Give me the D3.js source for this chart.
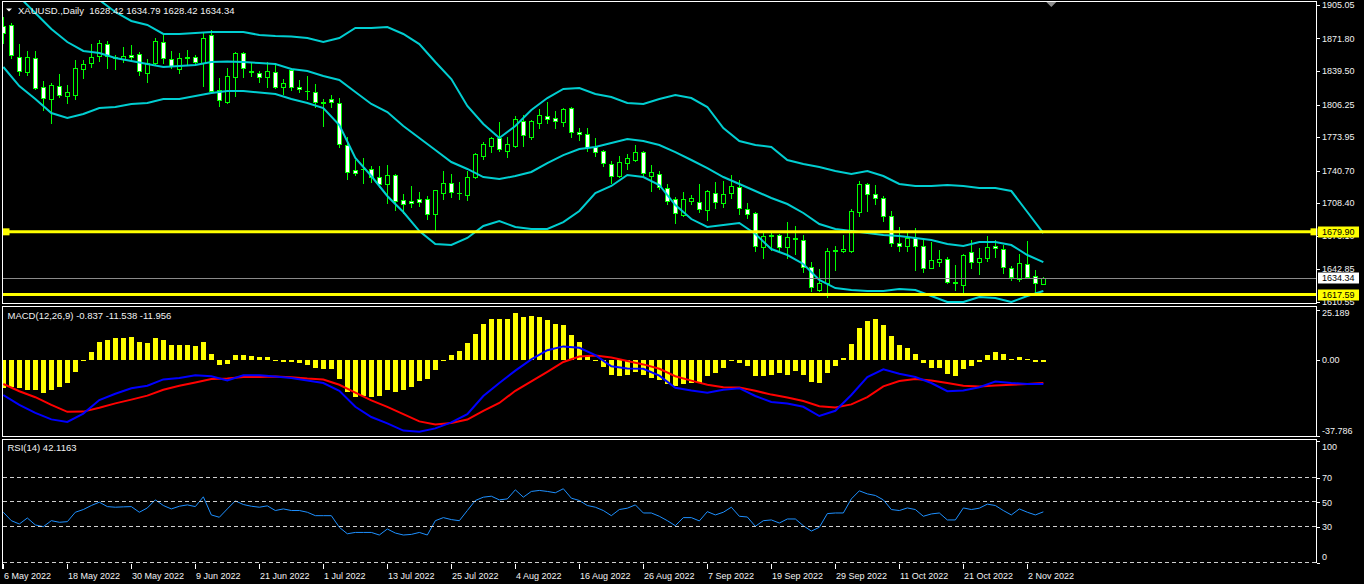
<!DOCTYPE html>
<html>
<head>
<meta charset="utf-8">
<script src="https://cdn.jsdelivr.net/npm/d3@7"></script>
<style>
  body { margin: 0; background: #000; }
  svg { display: block; }
  text { font-family: "Liberation Sans", Arial, sans-serif; font-size: 9px; fill: #f2f2f2; white-space: pre; }
  .title { font-size: 9.5px; }
</style>
</head>
<body>
<svg id="chart" width="1364" height="584"></svg>
<script>
// ---- data (daily bars, 6 May 2022 .. 4 Nov 2022) ----
const dateLabels = ["6 May 2022", "18 May 2022", "30 May 2022", "9 Jun 2022", "21 Jun 2022", "1 Jul 2022",
  "13 Jul 2022", "25 Jul 2022", "4 Aug 2022", "16 Aug 2022", "26 Aug 2022", "7 Sep 2022", "19 Sep 2022",
  "29 Sep 2022", "11 Oct 2022", "21 Oct 2022", "2 Nov 2022"];
const dateLabelBars = [0, 8, 16, 24, 32, 40, 48, 56, 64, 72, 80, 88, 96, 104, 112, 120, 128];

const opens = [1884.2, 1885.2, 1853.7, 1838.2, 1852.1, 1823.3, 1811.4, 1824.3, 1814.4, 1816.0,
  1841.2, 1847.2, 1854.4, 1866.0, 1853.1, 1851.1, 1855.4, 1856.4, 1837.2, 1847.2,
  1868.3, 1851.1, 1841.2, 1853.1, 1853.1, 1847.2, 1875.3, 1820.7, 1809.1, 1833.9,
  1857.7, 1839.2, 1837.2, 1833.3, 1838.2, 1823.3, 1840.5, 1823.3, 1819.7, 1818.4,
  1808.8, 1812.0, 1807.5, 1766.1, 1741.3, 1741.8, 1742.0, 1734.6, 1727.1, 1736.3,
  1711.5, 1710.5, 1712.5, 1712.2, 1697.3, 1718.7, 1728.1, 1718.4, 1716.7, 1734.0,
  1755.5, 1765.4, 1772.7, 1760.4, 1765.4, 1790.2, 1774.3, 1788.2, 1794.9, 1792.6,
  1789.2, 1802.5, 1779.3, 1776.7, 1763.8, 1760.1, 1747.2, 1735.6, 1748.5, 1751.2,
  1758.8, 1735.6, 1737.3, 1723.1, 1712.2, 1696.6, 1710.5, 1709.2, 1701.6, 1718.1,
  1708.8, 1718.1, 1724.1, 1702.2, 1698.3, 1665.1, 1675.7, 1676.7, 1665.1, 1673.5,
  1671.8, 1644.7, 1622.1, 1628.8, 1661.2, 1661.2, 1661.2, 1699.9, 1727.1, 1717.1,
  1713.2, 1695.9, 1668.5, 1666.1, 1673.5, 1666.1, 1644.3, 1650.2, 1652.9, 1629.8,
  1627.1, 1659.6, 1649.6, 1653.6, 1665.8, 1662.8, 1644.3, 1632.8, 1647.6, 1636.0,
  1628.42];
const highs = [1893.4, 1887.5, 1866.3, 1859.4, 1859.4, 1829.9, 1827.3, 1836.5, 1825.6, 1850.4,
  1850.4, 1866.0, 1870.3, 1869.3, 1855.4, 1863.6, 1865.3, 1858.7, 1851.4, 1872.0,
  1876.9, 1859.4, 1857.1, 1860.4, 1855.4, 1877.9, 1880.2, 1832.3, 1842.2, 1858.7,
  1858.7, 1847.2, 1839.8, 1848.8, 1847.2, 1831.6, 1842.2, 1830.6, 1834.6, 1826.6,
  1811.4, 1815.7, 1812.4, 1774.3, 1751.2, 1753.5, 1745.2, 1745.2, 1746.2, 1737.3,
  1717.4, 1725.4, 1719.1, 1715.5, 1721.4, 1740.3, 1737.3, 1729.1, 1740.6, 1757.8,
  1768.8, 1774.3, 1788.6, 1774.3, 1795.2, 1795.9, 1790.9, 1801.8, 1808.5, 1799.8,
  1803.1, 1803.5, 1783.2, 1782.6, 1772.7, 1761.1, 1750.2, 1755.2, 1756.8, 1766.1,
  1760.1, 1746.2, 1740.6, 1727.4, 1714.8, 1719.1, 1716.4, 1727.4, 1721.4, 1729.6,
  1730.3, 1736.3, 1731.3, 1708.2, 1699.9, 1678.4, 1679.0, 1677.4, 1689.9, 1686.0,
  1676.7, 1650.2, 1643.0, 1663.5, 1665.8, 1676.7, 1702.2, 1730.3, 1728.6, 1726.4,
  1715.5, 1700.6, 1684.4, 1678.4, 1683.4, 1671.8, 1670.1, 1661.9, 1655.2, 1647.0,
  1657.9, 1671.8, 1664.1, 1675.7, 1671.8, 1666.8, 1646.3, 1657.6, 1670.8, 1642.0,
  1634.79];
const lows = [1867.3, 1852.1, 1835.6, 1835.6, 1821.4, 1800.8, 1787.6, 1813.4, 1807.5, 1811.4,
  1832.9, 1843.8, 1849.8, 1842.2, 1841.2, 1848.8, 1849.8, 1835.6, 1828.9, 1846.5,
  1847.8, 1842.2, 1837.8, 1846.2, 1846.2, 1824.6, 1819.0, 1804.8, 1808.1, 1814.7,
  1833.9, 1834.6, 1828.9, 1823.9, 1822.4, 1816.7, 1820.7, 1819.0, 1811.7, 1803.5,
  1784.9, 1804.1, 1764.4, 1732.3, 1736.3, 1728.7, 1729.7, 1724.1, 1708.8, 1701.6,
  1698.9, 1704.2, 1705.8, 1692.6, 1681.7, 1712.5, 1714.8, 1712.5, 1711.5, 1733.0,
  1752.2, 1758.8, 1760.4, 1754.5, 1764.4, 1765.4, 1771.7, 1783.2, 1788.2, 1783.2,
  1784.9, 1773.7, 1771.0, 1760.4, 1755.5, 1745.5, 1728.1, 1734.6, 1742.3, 1750.2,
  1734.6, 1720.7, 1722.4, 1707.2, 1688.9, 1695.6, 1707.5, 1699.9, 1691.6, 1703.2,
  1704.8, 1713.2, 1697.3, 1693.3, 1661.2, 1654.2, 1661.9, 1659.6, 1654.2, 1657.6,
  1640.3, 1621.2, 1621.2, 1615.5, 1642.0, 1659.9, 1659.6, 1695.6, 1700.6, 1707.5,
  1690.6, 1666.1, 1661.2, 1661.2, 1642.0, 1640.3, 1644.3, 1646.3, 1628.8, 1622.1,
  1618.9, 1644.3, 1638.0, 1650.9, 1655.2, 1638.7, 1632.1, 1631.1, 1634.4, 1620.5,
  1628.42];
const closes = [1877.5, 1855.4, 1839.5, 1853.1, 1822.4, 1812.4, 1825.3, 1815.4, 1818.4, 1842.2,
  1846.5, 1853.7, 1867.0, 1854.7, 1852.1, 1854.4, 1853.1, 1839.5, 1847.2, 1869.3,
  1852.1, 1844.5, 1852.1, 1852.7, 1848.2, 1872.0, 1819.7, 1810.7, 1834.6, 1857.7,
  1842.2, 1838.5, 1833.9, 1839.8, 1823.9, 1827.3, 1823.3, 1821.4, 1819.4, 1808.5,
  1807.8, 1808.5, 1766.8, 1739.6, 1738.6, 1742.3, 1734.6, 1727.1, 1736.3, 1710.5,
  1707.2, 1708.2, 1709.8, 1697.3, 1721.1, 1728.1, 1719.7, 1718.9, 1734.6, 1757.1,
  1766.8, 1772.7, 1761.8, 1766.8, 1791.6, 1776.0, 1790.2, 1795.6, 1792.2, 1790.2,
  1801.5, 1779.3, 1776.7, 1764.4, 1759.4, 1747.9, 1735.6, 1748.9, 1752.9, 1758.8,
  1738.6, 1739.0, 1724.7, 1710.5, 1698.3, 1712.2, 1713.2, 1702.2, 1720.4, 1709.2,
  1717.4, 1725.4, 1703.2, 1697.3, 1665.8, 1675.7, 1676.7, 1665.1, 1675.1, 1672.8,
  1644.7, 1624.8, 1629.4, 1660.9, 1661.6, 1662.5, 1700.6, 1727.1, 1717.1, 1713.2,
  1695.9, 1668.5, 1666.1, 1673.5, 1666.1, 1643.7, 1651.9, 1652.9, 1629.8, 1629.1,
  1656.9, 1650.2, 1653.6, 1664.5, 1663.5, 1645.3, 1634.8, 1648.6, 1635.3, 1629.4,
  1634.34];

// Bollinger bands and MACD lines, read at every second bar
const sampleBars = d3.range(0, 131, 2);
const bbUpper = [1979.5, 1964.6, 1954.7, 1944.7, 1934.8, 1921.9, 1910.0, 1898.1, 1889.2, 1885.2,
  1876.3, 1876.3, 1877.2, 1878.2, 1878.2, 1878.2, 1875.3, 1874.3, 1873.8, 1872.3,
  1868.3, 1872.3, 1882.2, 1882.2, 1883.2, 1876.3, 1866.3, 1848.5, 1831.6, 1804.8,
  1786.9, 1773.0, 1784.9, 1800.8, 1812.7, 1821.7, 1822.7, 1816.7, 1813.7, 1807.8,
  1806.8, 1811.7, 1815.7, 1812.7, 1803.8, 1782.9, 1770.0, 1766.1, 1764.1, 1751.2,
  1747.2, 1744.2, 1740.3, 1737.3, 1740.3, 1735.3, 1727.4, 1725.4, 1725.4, 1726.4,
  1725.4, 1723.4, 1723.4, 1720.4, 1699.6, 1678.7];
const bbMiddle = [1928.1, 1913.0, 1897.1, 1881.2, 1868.3, 1859.4, 1857.4, 1852.4, 1849.5, 1846.5,
  1843.5, 1844.5, 1845.5, 1848.5, 1849.0, 1848.5, 1847.5, 1846.5, 1841.5, 1839.5,
  1834.6, 1830.6, 1818.7, 1806.8, 1798.8, 1784.9, 1773.0, 1761.1, 1749.2, 1742.3,
  1734.3, 1732.3, 1735.3, 1739.3, 1748.2, 1756.1, 1762.1, 1764.1, 1768.1, 1772.0,
  1770.0, 1766.1, 1759.1, 1751.2, 1743.2, 1734.3, 1727.4, 1720.4, 1713.5, 1707.5,
  1698.6, 1687.7, 1682.7, 1680.7, 1678.7, 1676.7, 1675.7, 1673.8, 1671.8, 1667.8,
  1665.8, 1669.8, 1669.8, 1666.8, 1656.9, 1649.9];
const bbLower = [1843.5, 1824.6, 1811.7, 1797.8, 1792.9, 1796.8, 1802.8, 1803.8, 1806.8, 1807.8,
  1811.7, 1811.7, 1814.7, 1817.7, 1819.7, 1819.7, 1818.2, 1816.7, 1811.7, 1807.8,
  1802.8, 1785.9, 1753.2, 1735.3, 1715.5, 1699.6, 1680.7, 1667.8, 1666.8, 1673.8,
  1685.7, 1690.6, 1684.7, 1682.7, 1682.7, 1689.6, 1700.6, 1718.4, 1725.4, 1736.3,
  1734.3, 1726.4, 1706.5, 1692.6, 1684.7, 1686.7, 1688.7, 1677.7, 1662.8, 1656.9,
  1648.0, 1632.1, 1624.1, 1622.1, 1621.2, 1621.2, 1623.1, 1622.1, 1616.2, 1610.2,
  1610.2, 1615.2, 1614.2, 1610.2, 1616.2, 1621.2];

const macdHist = [-14.1, -13.3, -14.1, -15.0, -15.2, -16.6, -15.0, -13.6, -11.5, -5.9,
  -0.5, 4.1, 8.8, 10.2, 10.8, 10.8, 11.4, 8.8, 8.3, 10.8,
  10.0, 7.6, 7.6, 7.6, 6.8, 8.8, 3.2, -2.5, -1.9, 2.4,
  2.4, 2.0, 1.5, 1.5, -0.5, -0.8, -1.0, -1.7, -2.4, -4.2,
  -4.7, -4.7, -9.5, -15.8, -18.3, -18.0, -18.3, -17.8, -15.0, -15.8,
  -15.2, -13.3, -10.7, -9.5, -5.1, -0.2, 2.4, 4.6, 8.3, 13.2,
  17.8, 20.7, 20.7, 20.7, 23.4, 21.7, 21.9, 21.5, 19.8, 17.8,
  17.3, 12.7, 9.2, 2.0, -0.2, -3.6, -7.6, -8.1, -7.6, -5.9,
  -7.3, -8.9, -10.2, -11.9, -13.2, -11.9, -11.5, -11.5, -8.1, -6.4,
  -4.2, -0.5, -1.7, -3.0, -7.8, -7.8, -7.6, -6.4, -7.6, -5.6,
  -7.6, -11.2, -11.5, -6.4, -3.0, 0.8, 8.0, 16.1, 19.5, 20.3,
  17.6, 12.2, 7.6, 5.8, 2.9, -1.4, -3.8, -3.8, -6.9, -8.1,
  -4.4, -3.0, -0.8, 2.4, 4.1, 2.9, 0.3, 1.5, 0.3, -1.2,
  -0.837];
const macdBlue = [-17.5, -22.4, -26.4, -29.7, -31.0, -26.8, -20.0, -16.9, -14.1, -12.9,
  -9.7, -9.0, -7.6, -8.1, -10.2, -7.6, -7.6, -8.3, -9.0, -10.3,
  -11.5, -15.4, -23.4, -28.5, -31.7, -35.3, -35.9, -34.2, -31.2, -27.1,
  -18.0, -11.5, -5.3, 0.3, 4.9, 6.8, 6.1, 2.4, -3.1, -4.2,
  -4.4, -7.8, -13.9, -15.3, -16.4, -14.9, -14.1, -18.0, -21.0, -21.7,
  -23.4, -28.0, -25.4, -17.5, -8.5, -4.7, -6.9, -8.5, -11.5, -15.6,
  -15.3, -13.6, -10.8, -11.5, -12.0, -11.956];
const macdRed = [-12.0, -15.6, -18.6, -22.4, -25.9, -25.8, -23.9, -21.7, -19.8, -17.8,
  -14.9, -12.9, -11.2, -9.5, -9.2, -8.5, -8.5, -8.3, -8.6, -9.3,
  -9.8, -12.4, -16.3, -20.2, -23.4, -27.1, -30.7, -32.2, -31.5, -29.8,
  -25.4, -21.5, -15.4, -10.7, -5.9, -1.0, 1.7, 2.2, 1.2, -0.5,
  -2.2, -4.4, -8.1, -10.3, -12.4, -13.6, -13.7, -15.4, -17.3, -18.8,
  -20.5, -23.1, -23.7, -22.2, -18.6, -13.2, -10.5, -9.5, -10.2, -11.5,
  -12.9, -13.2, -12.7, -12.4, -12.0, -11.538];

const rsi = [41.8, 34.9, 32.2, 37.1, 31.4, 30.0, 34.9, 33.6, 34.1, 41.8,
  44.0, 47.3, 50.0, 46.4, 45.9, 46.2, 46.4, 41.8, 45.3, 51.9,
  47.3, 44.5, 46.7, 47.8, 46.4, 54.4, 39.6, 37.7, 44.5, 51.1,
  48.1, 46.7, 45.9, 47.0, 43.2, 44.5, 43.2, 43.2, 41.8, 39.0,
  39.0, 39.0, 29.5, 24.2, 25.3, 25.3, 25.3, 23.2, 28.1, 24.8,
  23.2, 23.7, 25.3, 23.2, 34.9, 37.4, 35.8, 34.9, 43.2, 51.4,
  54.1, 54.9, 51.9, 52.7, 60.1, 54.1, 58.8, 59.6, 58.8, 57.7,
  61.0, 53.3, 51.4, 47.3, 45.9, 43.2, 39.0, 44.0, 45.1, 47.8,
  41.2, 41.2, 38.5, 34.9, 30.8, 37.4, 37.4, 34.7, 42.3, 39.6,
  41.8, 45.9, 38.5, 37.9, 30.3, 34.9, 35.5, 33.0, 36.3, 36.3,
  30.8, 26.4, 29.5, 40.7, 41.2, 41.2, 52.7, 59.3, 56.8, 55.5,
  51.9, 44.0, 43.2, 45.3, 44.0, 38.5, 40.4, 41.2, 35.5, 35.5,
  45.3, 44.0, 45.1, 48.4, 47.3, 43.2, 39.6, 44.5, 41.8, 39.6,
  42.1163];

const priceTicks = [1905.05, 1871.80, 1839.50, 1806.25, 1773.95, 1740.70, 1708.40, 1676.10, 1642.85, 1610.55];
const macdTicks = [25.189, 0, -37.786];
const rsiTicks = [100, 70, 50, 30, 0];
const rsiLevels = [70, 50, 30, 0];
const levels = [1679.90, 1617.59];
const selectedLevel = 1679.90;
const bidPrice = 1634.34;

const mainTitle = "XAUUSD.,Daily  1628.42 1634.79 1628.42 1634.34";
const macdTitle = "MACD(12,26,9) -0.837 -11.538 -11.956";
const rsiTitle = "RSI(14) 42.1163";

// ---- layout ----
const svg = d3.select("#chart");
const left = 2.5, axisX = 1316.5;
const pane = {
  main: { top: 1.5, bottom: 303.5 },
  macd: { top: 306.5, bottom: 436.5 },
  rsi: { top: 439.5, bottom: 563.5 }
};

const x = d3.scaleLinear().domain([0, 130]).range([3.33, 1043.33]);
const yPrice = d3.scaleLinear().domain([1610.55, 1905.05]).range([301.7, 5]);
const yMacd = d3.scaleLinear().domain([0, 25]).range([360, 310]);
const yRsi = d3.scaleLinear().domain([0, 100]).range([563.4, 441]);
const px = i => Math.round(x(i)) + 0.5;

svg.append("rect").attr("width", 1364).attr("height", 584).attr("fill", "#000");

const defs = svg.append("defs");
Object.entries(pane).forEach(([name, p]) => {
  defs.append("clipPath").attr("id", "clip-" + name)
    .append("rect")
    .attr("x", left + 0.5).attr("y", p.top + 0.5)
    .attr("width", axisX - left - 1).attr("height", p.bottom - p.top - 1);
});

// ---- main pane: candles ----
const bars = d3.range(closes.length);
const gMain = svg.append("g").attr("clip-path", "url(#clip-main)");
const gCandles = gMain.append("g").attr("shape-rendering", "crispEdges");

gCandles.selectAll(".wick")
  .data(bars)
  .enter()
  .append("line")
  .attr("x1", i => px(i)).attr("x2", i => px(i))
  .attr("y1", i => Math.round(yPrice(highs[i])))
  .attr("y2", i => Math.round(yPrice(lows[i])) + 1)
  .attr("stroke", "#00ff00");

bars.forEach(i => {
  const top = Math.round(yPrice(Math.max(opens[i], closes[i])));
  const bot = Math.round(yPrice(Math.min(opens[i], closes[i])));
  const cx = px(i);
  if (bot - top < 1) {
    gCandles.append("line")
      .attr("x1", cx - 2.5).attr("x2", cx + 2.5)
      .attr("y1", top + 0.5).attr("y2", top + 0.5)
      .attr("stroke", "#00ff00");
  } else {
    gCandles.append("rect")
      .attr("x", cx - 2).attr("y", top + 0.5)
      .attr("width", 4).attr("height", bot - top)
      .attr("fill", closes[i] < opens[i] ? "#ffffff" : "#000000")
      .attr("stroke", "#00ff00");
  }
});

// ---- Bollinger bands ----
const bandLine = d3.line()
  .x((d, k) => x(sampleBars[k]))
  .y(d => yPrice(d));
[bbUpper, bbMiddle, bbLower].forEach(band => {
  gMain.append("path")
    .datum(band)
    .attr("d", bandLine)
    .attr("fill", "none")
    .attr("stroke", "#00ced1")
    .attr("stroke-width", 2);
});

// ---- horizontal levels ----
gMain.append("line")
  .attr("x1", left).attr("x2", axisX)
  .attr("y1", Math.round(yPrice(bidPrice)) + 0.5).attr("y2", Math.round(yPrice(bidPrice)) + 0.5)
  .attr("stroke", "#8a8a8a");

levels.forEach(lv => {
  gMain.append("line")
    .attr("x1", left).attr("x2", axisX)
    .attr("y1", yPrice(lv)).attr("y2", yPrice(lv))
    .attr("stroke", "#ffff00")
    .attr("stroke-width", 3);
});
gMain.append("rect")
  .attr("x", left).attr("y", yPrice(selectedLevel) - 3.5)
  .attr("width", 7).attr("height", 7).attr("fill", "#ffff00");
svg.append("rect")
  .attr("x", axisX - 6).attr("y", yPrice(selectedLevel) - 3.5)
  .attr("width", 7).attr("height", 7).attr("fill", "#ffff00");

// chart-shift marker and title
svg.append("path")
  .attr("d", `M${x(131) - 5},2 L${x(131) + 5},2 L${x(131)},7 Z`)
  .attr("fill", "#8c8c8c");
svg.append("path").attr("d", "M6,8.5 L12,8.5 L9,11.5 Z").attr("fill", "#ffffff");
svg.append("text").attr("class", "title").attr("x", 18).attr("y", 13.5).text(mainTitle);

// ---- MACD pane ----
const gMacd = svg.append("g").attr("clip-path", "url(#clip-macd)");
gMacd.append("g").attr("shape-rendering", "crispEdges")
  .selectAll("rect")
  .data(macdHist)
  .enter()
  .append("rect")
  .attr("x", (d, i) => Math.round(x(i)) - 2)
  .attr("width", 5)
  .attr("y", d => Math.round(Math.min(yMacd(0), yMacd(d))))
  .attr("height", d => Math.max(1, Math.round(Math.abs(yMacd(d) - yMacd(0)))))
  .attr("fill", "#ffff00");

const macdLine = d3.line()
  .x((d, k) => x(sampleBars[k]))
  .y(d => yMacd(d));
gMacd.append("path").datum(macdRed).attr("d", macdLine)
  .attr("fill", "none").attr("stroke", "#ff0000").attr("stroke-width", 2);
gMacd.append("path").datum(macdBlue).attr("d", macdLine)
  .attr("fill", "none").attr("stroke", "#0000ff").attr("stroke-width", 2);
svg.append("text").attr("class", "title").attr("x", 7.5).attr("y", 318.5).text(macdTitle);

// ---- RSI pane ----
const gRsi = svg.append("g").attr("clip-path", "url(#clip-rsi)");
rsiLevels.forEach(lv => {
  svg.append("line")
    .attr("x1", left).attr("x2", axisX)
    .attr("y1", Math.round(yRsi(lv)) - 0.5).attr("y2", Math.round(yRsi(lv)) - 0.5)
    .attr("stroke", "#cfcfcf")
    .attr("stroke-dasharray", "4,3")
    .attr("shape-rendering", "crispEdges");
});
gRsi.append("path")
  .datum(rsi)
  .attr("d", d3.line().x((d, i) => x(i)).y(d => yRsi(d)))
  .attr("fill", "none")
  .attr("stroke", "#1e90ff")
  .attr("stroke-width", 1);
svg.append("text").attr("class", "title").attr("x", 7.5).attr("y", 451).text(rsiTitle);

// ---- frames ----
const gFrame = svg.append("g").attr("shape-rendering", "crispEdges")
  .attr("stroke", "#ffffff").attr("fill", "none");
[pane.main, pane.macd].forEach(p => {
  gFrame.append("rect").attr("x", left).attr("y", p.top)
    .attr("width", axisX - left).attr("height", p.bottom - p.top);
});
gFrame.append("path")
  .attr("d", `M${left},${pane.rsi.bottom + 5} V${pane.rsi.top} H${axisX} V${pane.rsi.bottom - 1}`);

// ---- right axis labels ----
const gAxis = svg.append("g");
function axisLabel(y, label, lo, hi) {
  const ty = Math.max(lo, Math.min(hi, y));
  gAxis.append("line")
    .attr("x1", axisX).attr("x2", axisX + 3.5)
    .attr("y1", Math.round(y) + 0.5).attr("y2", Math.round(y) + 0.5)
    .attr("stroke", "#ffffff").attr("shape-rendering", "crispEdges");
  gAxis.append("text").attr("x", 1322).attr("y", ty + 3.3).text(label);
}
priceTicks.forEach(v => axisLabel(yPrice(v), v.toFixed(2), 4.5, 302));
macdTicks.forEach(v => axisLabel(yMacd(v), v === 0 ? "0.00" : v.toFixed(3), pane.macd.top + 6.5, pane.macd.bottom - 6));
rsiTicks.forEach(v => axisLabel(yRsi(v), String(v), pane.rsi.top + 7.5, pane.rsi.bottom - 7));

function priceBox(v, bg) {
  const y = yPrice(v);
  gAxis.append("rect")
    .attr("x", 1318).attr("y", Math.round(y) - 5.5)
    .attr("width", 41).attr("height", 11)
    .attr("fill", bg);
  gAxis.append("text").attr("x", 1322).attr("y", Math.round(y) + 3.3)
    .style("fill", "#000000").text(v.toFixed(2));
}
priceBox(bidPrice, "#ffffff");
levels.forEach(v => priceBox(v, "#ffff00"));

// ---- date axis ----
const gDates = svg.append("g");
dateLabelBars.forEach((b, k) => {
  gDates.append("line")
    .attr("x1", px(b)).attr("x2", px(b))
    .attr("y1", pane.rsi.bottom).attr("y2", pane.rsi.bottom + 5)
    .attr("stroke", "#ffffff").attr("shape-rendering", "crispEdges");
  gDates.append("text").attr("x", px(b) + 0.5).attr("y", 578.5).text(dateLabels[k]);
});
</script>
</body>
</html>
